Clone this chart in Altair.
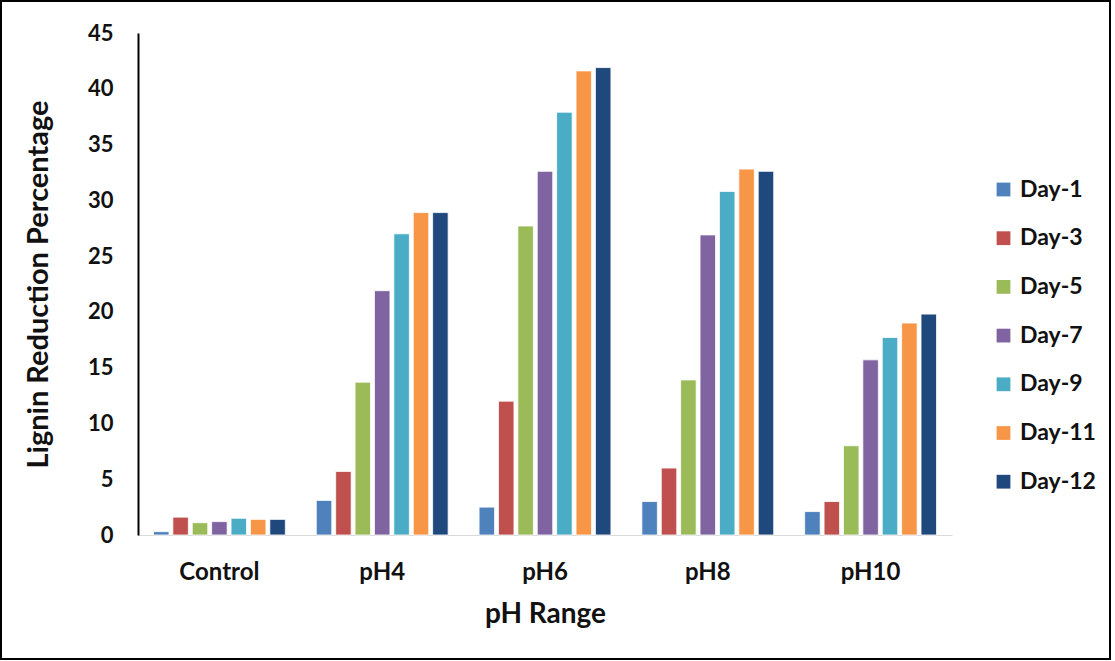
import altair as alt
import pandas as pd

groups = ["Control", "pH4", "pH6", "pH8", "pH10"]
days = ["Day-1", "Day-3", "Day-5", "Day-7", "Day-9", "Day-11", "Day-12"]
colors = ["#4F81BD", "#C0504D", "#9BBB59", "#8064A2", "#4BACC6", "#F79646", "#1F497D"]

control = [0.3, 1.6, 1.1, 1.2, 1.5, 1.4, 1.4]
ph4 = [3.1, 5.7, 13.7, 21.9, 27.0, 28.9, 28.9]
ph6 = [2.5, 12.0, 27.7, 32.6, 37.9, 41.6, 41.9]
ph8 = [3.0, 6.0, 13.9, 26.9, 30.8, 32.8, 32.6]
ph10 = [2.1, 3.0, 8.0, 15.7, 17.7, 19.0, 19.8]

rows = []
for g, vals in zip(groups, [control, ph4, ph6, ph8, ph10]):
    for d, v in zip(days, vals):
        rows.append({"group": g, "day": d, "value": v})
df = pd.DataFrame(rows)

W, H = 814, 502
FONT = "Lato"
TXT = "#111111"

bars = alt.Chart(df).mark_bar(stroke="white", strokeWidth=0.8).encode(
    x=alt.X("group:N", sort=groups, title="pH Range",
            scale=alt.Scale(paddingInner=0.19, paddingOuter=0.095),
            axis=alt.Axis(labelAngle=0, labelFontSize=24, labelFontWeight="bold",
                          labelColor=TXT, labelPadding=25, ticks=False,
                          domainColor="#d9d9d9", domainWidth=1,
                          titleFontSize=28, titleFontWeight="bold",
                          titleColor=TXT, titlePadding=16)),
    xOffset=alt.XOffset("day:N", sort=days, scale=alt.Scale(paddingInner=0.2)),
    y=alt.Y("value:Q", title="Lignin Reduction Percentage",
            scale=alt.Scale(domain=[0, 45], nice=False),
            axis=alt.Axis(values=list(range(0, 46, 5)), grid=False, ticks=False,
                          labelFontSize=22, labelFontWeight="bold",
                          labelColor=TXT, labelPadding=25,
                          domainColor="#000000", domainWidth=2,
                          titleFontSize=29, titleFontWeight="bold",
                          titleColor=TXT, titlePadding=34)),
    color=alt.Color("day:N", sort=days,
                    scale=alt.Scale(domain=days, range=colors),
                    legend=alt.Legend(title=None, orient="none", legendX=854, legendY=145,
                                      symbolType="square", symbolSize=190,
                                      symbolStrokeWidth=0, labelFontSize=23,
                                      labelFontWeight="bold", labelColor=TXT,
                                      rowPadding=24.7, labelOffset=5)),
)

border = alt.Chart(pd.DataFrame({"a": [0]})).mark_rect(
    fill=None, stroke="#000000", strokeWidth=2, clip=False
).encode(
    x=alt.value(-137), x2=alt.value(W + 158),
    y=alt.value(-32), y2=alt.value(H + 124),
)

chart = alt.layer(bars, border).properties(
    width=W, height=H,
    autosize=alt.AutoSizeParams(type="none"),
    padding={"left": 138, "top": 33, "right": 163, "bottom": 126},
).configure(font=FONT).configure_view(stroke=None).configure_axis(labelFont=FONT, titleFont=FONT).configure_legend(labelFont=FONT)

chart.save("out.html", embed_options={"renderer": "svg", "actions": False})
